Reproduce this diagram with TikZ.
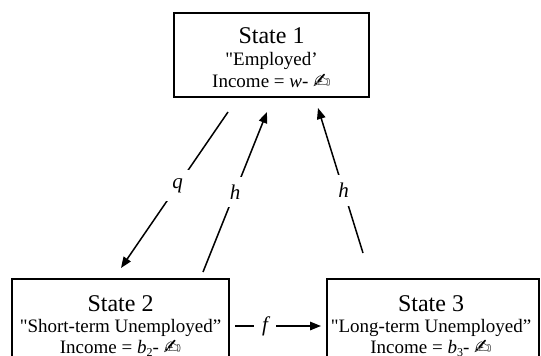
\documentclass[tikz,border=0pt]{standalone}
\usepackage{fontspec}
\setmainfont{Liberation Serif}[Ligatures=TeXOff]
\newfontfamily\symfont{DejaVu Sans}
\usetikzlibrary{arrows.meta}
\begin{document}
\begin{tikzpicture}[x=1pt,y=-1pt,
  statebox/.style={draw, line width=1.6pt, inner sep=0pt},
  titletext/.style={anchor=base, inner sep=0pt, font=\fontsize{24}{26}\selectfont},
  linetext/.style={anchor=base, inner sep=0pt, font=\fontsize{19}{21}\selectfont},
  arr/.style={line width=1.5pt, -{Triangle[length=11pt,width=8.5pt]}},
  lbl/.style={fill=white, inner sep=8pt, font=\fontsize{21}{23}\selectfont\itshape}]
\useasboundingbox (0,0) rectangle (541,356);
\clip (0,0) rectangle (541,356);
\newcommand\taxsym{{\symfont\fontsize{21}{22}\selectfont\raisebox{-1pt}{✍}}}
% boxes
\node[statebox, minimum width=195pt, minimum height=84pt] (s1) at (271.5,55) {};
\node[statebox, minimum width=217pt, minimum height=121pt] (s2) at (120.5,339.5) {};
\node[statebox, minimum width=212pt, minimum height=121pt] (s3) at (433,339.5) {};
% texts
\node[titletext] (t1) at (271.5,43) {State 1};
\node[linetext] (d1) at (271.5,65) {"Employed’};
\node[linetext] (i1) at (271.5,87) {Income = \textit{w}- \taxsym};
\node[titletext] (t2) at (120.5,311) {State 2};
\node[linetext] (d2) at (120.5,332) {"Short-term Unemployed”};
\node[linetext] (i2) at (120.5,353) {Income = \textit{b}{\fontsize{12}{13}\selectfont\raisebox{-3pt}{2}}- \taxsym};
\node[titletext] (t3) at (431,311) {State 3};
\node[linetext] (d3) at (431,332) {"Long-term Unemployed”};
\node[linetext] (i3) at (431,353) {Income = \textit{b}{\fontsize{12}{13}\selectfont\raisebox{-3pt}{3}}- \taxsym};
% connector end points
\coordinate (qa) at (228,112);
\coordinate (qb) at (121,268);
\coordinate (ha) at (203,272);
\coordinate (hb) at (267,112);
\coordinate (hc) at (363,253);
\coordinate (hd) at (318,108);
\coordinate (fa) at (235,326);
\coordinate (fb) at (321,326);
% connectors
\draw[arr] (qa) -- node[lbl, pos=0.47] (lq) {q} (qb);
\draw[arr] (ha) -- node[lbl, pos=0.5] (lh1) {h} (hb);
\draw[arr] (hc) -- node[lbl, pos=0.43] (lh2) {h} (hd);
\draw[arr] (fa) -- node[lbl, pos=0.35] (lf) {f} (fb);
\end{tikzpicture}
\end{document}
